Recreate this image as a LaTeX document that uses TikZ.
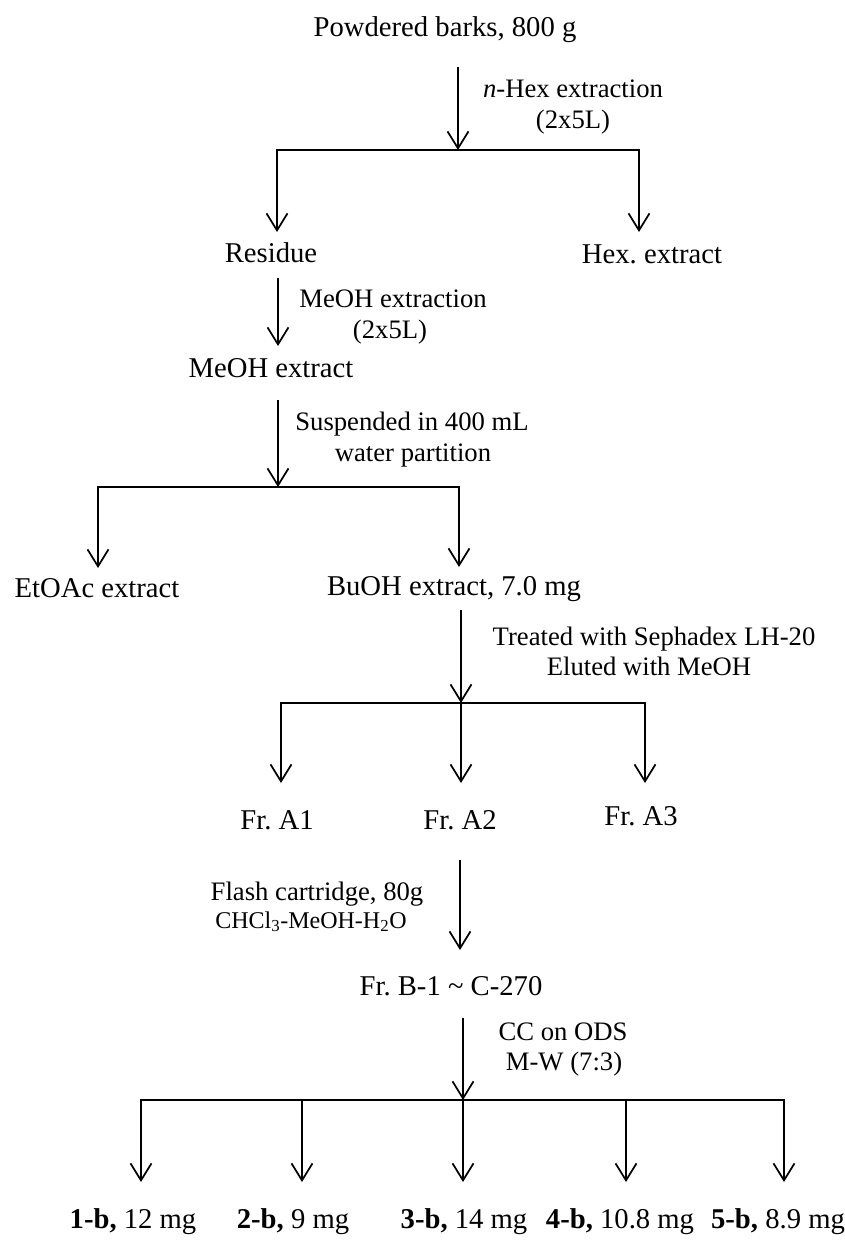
\documentclass[tikz,border=0pt]{standalone}
\usepackage{fontspec}
\setmainfont{Liberation Serif}
\usetikzlibrary{arrows.meta}
\frenchspacing
\tikzset{
  nodetext/.style={font=\fontsize{21.5}{24}\selectfont, inner sep=0pt, anchor=base},
  labtext/.style={font=\fontsize{20}{23}\selectfont, inner sep=0pt, anchor=base},
  smalltext/.style={font=\fontsize{18}{21}\selectfont, inner sep=0pt, anchor=base},
  barb/.tip={Straight Barb[length=12.75pt,width=15.75pt]},
  flow/.style={line width=1.3pt, -barb},
  branch/.style={line width=1.3pt, barb-barb},
  plain/.style={line width=1.3pt}
}
\begin{document}
\begin{tikzpicture}[x=0.75pt, y=-0.75pt]
\fill[white] (0,0) rectangle (845,1240);
\useasboundingbox (0,0) rectangle (845,1240);

% ---------- nodes ----------
\node[nodetext] (top)   at (445,36)  {Powdered barks, 800 g};
\node[nodetext] (res)   at (271,262) {Residue};
\node[nodetext] (hex)   at (652,263) {Hex. extract};
\node[nodetext] (meoh)  at (271,377) {MeOH extract};
\node[nodetext] (etoac) at (97,597)  {EtOAc extract};
\node[nodetext] (buoh)  at (454,595) {BuOH extract, 7.0 mg};
\node[nodetext] (a1)    at (277,829) {Fr. A1};
\node[nodetext] (a2)    at (460,829) {Fr. A2};
\node[nodetext] (a3)    at (641,825) {Fr. A3};
\node[nodetext] (frb)   at (451,995) {Fr. B-1 \textasciitilde{} C-270};
\node[nodetext] (b1)    at (133,1228) {\textbf{1-b,} 12 mg};
\node[nodetext] (b2)    at (293,1228) {\textbf{2-b,} 9 mg};
\node[nodetext] (b3)    at (464,1228) {\textbf{3-b,} 14 mg};
\node[nodetext] (b4)    at (620,1228) {\textbf{4-b,} 10.8 mg};
\node[nodetext] (b5)    at (778,1228) {\textbf{5-b,} 8.9 mg};

% ---------- labels ----------
\node[labtext] (l1a) at (573,97)  {\textit{n}-Hex extraction};
\node[labtext] (l1b) at (573,128) {(2x5L)};
\node[labtext] (l2a) at (393,307) {MeOH extraction};
\node[labtext] (l2b) at (390,338) {(2x5L)};
\node[labtext] (l3a) at (412,430) {Suspended in 400 mL};
\node[labtext] (l3b) at (413,461) {water partition};
\node[labtext] (l4a) at (654,645) {Treated with Sephadex LH-20};
\node[labtext] (l4b) at (649,675) {Eluted with MeOH};
\node[labtext] (l5a) at (317,900) {Flash cartridge, 80g};
\node[smalltext] (l5b) at (311,928) {CHCl\textsubscript{3}-MeOH-H\textsubscript{2}O};
\node[labtext] (l6a) at (563,1040) {CC on ODS};
\node[labtext] (l6b) at (564,1070) {M-W (7:3)};

% ---------- coordinates ----------
\coordinate (s1) at (458,67);   \coordinate (j1) at (458,150);
\coordinate (j1l) at (277,150); \coordinate (j1r) at (639,150);
\coordinate (e1l) at (277,232); \coordinate (e1r) at (639,232);

\coordinate (s2) at (278,278);  \coordinate (e2) at (278,346);

\coordinate (s3) at (278,400);  \coordinate (j3) at (278,487);
\coordinate (j3l) at (98,487);  \coordinate (j3r) at (459,487);
\coordinate (e3l) at (98,568);  \coordinate (e3r) at (459,567);

\coordinate (s4) at (461,610);  \coordinate (j4) at (461,703);
\coordinate (j4l) at (281,703); \coordinate (j4r) at (645,703);
\coordinate (e4l) at (281,783); \coordinate (e4m) at (461,783); \coordinate (e4r) at (645,783);

\coordinate (s5) at (460,860);  \coordinate (e5) at (460,950);

\coordinate (s6) at (463,1018); \coordinate (j6) at (463,1100);
\coordinate (j6a) at (141,1100); \coordinate (j6b) at (302,1100);
\coordinate (j6d) at (626,1100); \coordinate (j6e) at (784,1100);
\coordinate (e6a) at (141,1182); \coordinate (e6b) at (302,1182);
\coordinate (e6c) at (463,1182); \coordinate (e6d) at (626,1182);
\coordinate (e6e) at (784,1182);

% ---------- connectors ----------
\draw[flow] (s1) -- (j1);
\draw[branch] (e1l) -- (j1l) -- (j1r) -- (e1r);

\draw[flow] (s2) -- (e2);

\draw[flow] (s3) -- (j3);
\draw[branch] (e3l) -- (j3l) -- (j3r) -- (e3r);

\draw[flow] (s4) -- (j4);
\draw[branch] (e4l) -- (j4l) -- (j4r) -- (e4r);
\draw[flow] (j4) -- (e4m);

\draw[flow] (s5) -- (e5);

\draw[flow] (s6) -- (j6);
\draw[branch] (e6a) -- (j6a) -- (j6e) -- (e6e);
\draw[flow] (j6b) -- (e6b);
\draw[flow] (j6) -- (e6c);
\draw[flow] (j6d) -- (e6d);
\end{tikzpicture}
\end{document}
